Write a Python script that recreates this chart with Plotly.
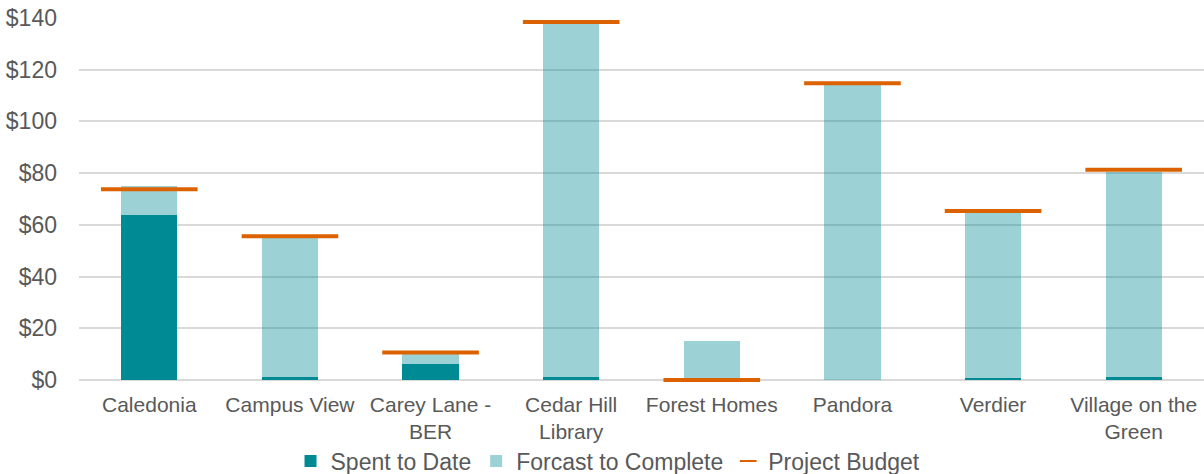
import plotly.graph_objects as go

categories = ["Caledonia", "Campus View", "Carey Lane -<br>BER", "Cedar Hill<br>Library",
              "Forest Homes", "Pandora", "Verdier", "Village on the<br>Green"]
spent_to_date = [64, 1, 6, 1.2, 0, 0, 0.6, 1]
forecast_to_complete = [11, 54, 4, 136.5, 15.2, 114, 64.2, 79.5]
project_budget = [73.8, 55.6, 10.6, 138.5, 0, 114.8, 65.4, 81.3]
y_ticks = [0, 20, 40, 60, 80, 100, 120, 140]
y_tick_labels = ["$" + str(v) for v in y_ticks]

font_family = "Liberation Sans, Arial, sans-serif"
text_color = "#595959"

fig = go.Figure()
fig.add_trace(go.Bar(
    x=categories, y=spent_to_date, name="Spent to Date",
    marker=dict(color="#008A93", line=dict(width=0)), width=0.4,
))
fig.add_trace(go.Bar(
    x=categories, y=forecast_to_complete, name="Forcast to Complete",
    marker=dict(color="rgba(0,139,147,0.39)", line=dict(width=0)), width=0.4,
))
fig.add_trace(go.Scatter(
    x=categories, y=project_budget, name="Project Budget", mode="markers",
    marker=dict(symbol="line-ew", size=69, color="#DC6200",
                line=dict(color="#DC6200", width=4)),
    cliponaxis=False,
))

fig.update_layout(
    barmode="stack",
    width=1204, height=474,
    margin=dict(l=79, r=0, t=18, b=94, autoexpand=False),
    plot_bgcolor="white", paper_bgcolor="white",
    font=dict(family=font_family, color=text_color),
    bargap=0.6,
    legend=dict(orientation="h", x=0.505, xanchor="center", xref="container",
                y=-0.2238, yanchor="middle", yref="paper",
                bgcolor="rgba(0,0,0,0)",
                font=dict(size=23, color=text_color), itemwidth=30,
                itemsizing="constant", traceorder="normal"),
    xaxis=dict(range=[-0.5, 7.5], tickfont=dict(size=21, color=text_color),
               showgrid=False, showline=False, ticks="", automargin=False,
               ticklabelstandoff=10),
    yaxis=dict(range=[0, 140], tickvals=y_ticks, ticktext=y_tick_labels,
               tickfont=dict(size=23, color=text_color),
               showgrid=True, gridcolor="#D9D9D9", gridwidth=1.5,
               zeroline=True, zerolinecolor="#D9D9D9", zerolinewidth=1.5,
               showline=False, ticks="", automargin=False, ticklabelstandoff=21),
)

fig.write_html("out.html")
